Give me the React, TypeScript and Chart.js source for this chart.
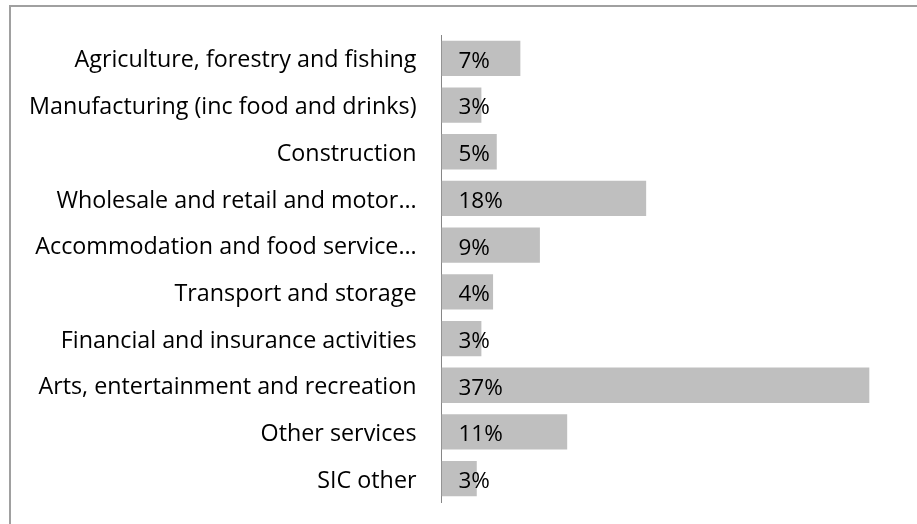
import React, { useEffect, useRef } from "react";
import { Chart, registerables } from "chart.js";

Chart.register(...registerables);

const categories: string[] = [
  "Agriculture, forestry and fishing",
  "Manufacturing (inc food and drinks)",
  "Construction",
  "Wholesale and retail and motor…",
  "Accommodation and food service…",
  "Transport and storage",
  "Financial and insurance activities",
  "Arts, entertainment and recreation",
  "Other services",
  "SIC other",
];

const shares: number[] = [6.82, 3.45, 4.78, 17.7, 8.51, 4.46, 3.45, 37.0, 10.87, 3.05];

const xMin = 0;
const xMax = 40;

const FONT_FAMILY = "'Open Sans', Lato, sans-serif";
const LABEL_SIZE = 23.3;
const VALUE_SIZE = 22.5;

const dataLabelPlugin = {
  id: "dataLabelPlugin",
  afterDatasetsDraw(chart: any) {
    const ctx = chart.ctx;
    const meta = chart.getDatasetMeta(0);
    const xScale = chart.scales.x;
    ctx.save();
    ctx.font = `${VALUE_SIZE}px ${FONT_FAMILY}`;
    ctx.fillStyle = "#000000";
    ctx.textAlign = "left";
    ctx.textBaseline = "middle";
    meta.data.forEach((bar: any, i: number) => {
      const v = chart.data.datasets[0].data[i] as number;
      ctx.fillText(`${Math.round(v)}%`, xScale.left + 17, bar.y + 3);
    });
    ctx.restore();
  },
};

export default function App() {
  const canvasRef = useRef<HTMLCanvasElement | null>(null);

  useEffect(() => {
    if (!canvasRef.current) return;
    const chart = new Chart(canvasRef.current, {
      type: "bar",
      data: {
        labels: categories,
        datasets: [
          {
            data: shares,
            backgroundColor: "#bfbfbf",
            borderWidth: 0,
            categoryPercentage: 0.756,
            barPercentage: 1,
          },
        ],
      },
      options: {
        indexAxis: "y",
        animation: false,
        responsive: false,
        maintainAspectRatio: false,
        layout: { padding: { top: 35, bottom: 22, right: 13, left: 0 } },
        plugins: {
          legend: { display: false },
          tooltip: { enabled: false },
          title: { display: false },
        },
        scales: {
          x: {
            min: xMin,
            max: xMax,
            display: false,
          },
          y: {
            grid: { display: false, drawTicks: false },
            border: { display: true, color: "#868686", width: 1 },
            ticks: {
              color: "#000000",
              padding: 25,
              labelOffset: 2.5,
              font: { family: FONT_FAMILY, size: LABEL_SIZE },
            },
            afterFit(scale: any) {
              scale.width = 441.5;
              scale.paddingTop = 0;
              scale.paddingBottom = 0;
            },
          },
        },
      },
      plugins: [dataLabelPlugin],
    });
    return () => chart.destroy();
  }, []);

  return (
    <div
      style={{
        position: "fixed",
        left: 0,
        top: 0,
        width: 917,
        height: 524,
        background: "#ffffff",
        overflow: "hidden",
      }}
    >
      <div
        style={{
          position: "absolute",
          left: 9,
          top: 5,
          width: 1000,
          height: 700,
          borderLeft: "2px solid #a0a0a0",
          borderTop: "2px solid #a0a0a0",
        }}
      />
      <canvas
        ref={canvasRef}
        width={917}
        height={524}
        style={{ position: "absolute", left: 0, top: 0 }}
      />
    </div>
  );
}
